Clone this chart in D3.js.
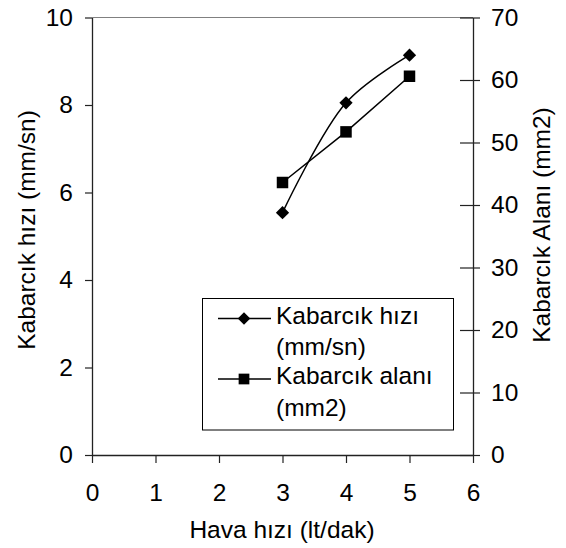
<!DOCTYPE html>
<html lang="en">
<head>
<meta charset="UTF-8">
<title>Kabarcik chart</title>
<script src="https://cdnjs.cloudflare.com/ajax/libs/d3/7.8.5/d3.min.js"></script>
<style>
    body { margin: 0; background: white; }
    text { font-family: "Liberation Sans", Arial, sans-serif; font-size: 24.5px; fill: black; }
</style>
</head>
<body>
<div id="chart"></div>
<script>

    var width = 566,
        height = 548;

    // data
    var havaHizi = [3, 4, 5];
    var kabarcikHizi = [5.54, 8.05, 9.14];     // left axis (mm/sn)
    var kabarcikAlani = [43.6, 51.7, 60.6];    // right axis (mm2)
    var xTicks = [0, 1, 2, 3, 4, 5, 6];
    var yLeftTicks = [0, 2, 4, 6, 8, 10];
    var yRightTicks = [0, 10, 20, 30, 40, 50, 60, 70];
    var legendLabels = [["Kabarcık hızı", "(mm/sn)"], ["Kabarcık alanı", "(mm2)"]];

    var plotLeft = 92, plotRight = 473, plotTop = 17.5, plotBottom = 455;

    var svg = d3.select("#chart")
        .append("svg")
        .attr("width", width)
        .attr("height", height);

    var x = d3.scaleLinear().domain([0, 6]).range([plotLeft, plotRight]);
    var yL = d3.scaleLinear().domain([0, 10]).range([plotBottom, plotTop]);
    var yR = d3.scaleLinear().domain([0, 70]).range([plotBottom, plotTop]);

    // top border (gray)
    svg.append("line")
        .attr("x1", plotLeft).attr("x2", plotRight)
        .attr("y1", plotTop).attr("y2", plotTop)
        .attr("stroke", "#808080").attr("stroke-width", 1);

    // x axis
    var xAxis = svg.append("g")
        .attr("transform", "translate(0," + plotBottom + ")")
        .call(d3.axisBottom(x).tickValues(xTicks).tickFormat(d3.format("d")).tickSize(8).tickSizeOuter(0));

    // left axis
    var yAxisL = svg.append("g")
        .attr("transform", "translate(" + plotLeft + ",0)")
        .call(d3.axisLeft(yL).tickValues(yLeftTicks).tickFormat(d3.format("d")).tickSize(7).tickPadding(12).tickSizeOuter(0));

    // right axis, ticks cross the line
    var yAxisR = svg.append("g")
        .attr("transform", "translate(" + plotRight + ",0)")
        .call(d3.axisRight(yR).tickValues(yRightTicks).tickFormat(d3.format("d")).tickSize(7).tickPadding(11).tickSizeOuter(0));
    yAxisR.selectAll(".tick line").attr("x1", -13).attr("x2", 7);

    [xAxis, yAxisL, yAxisR].forEach(function(a) {
        a.select(".domain").attr("stroke", "#222").attr("stroke-width", 1.3);
        a.selectAll(".tick line").attr("stroke", "#222").attr("stroke-width", 1.2);
        a.selectAll(".tick text").style("font-size", "24.5px").attr("fill", "black");
    });
    xAxis.selectAll(".tick text").attr("dy", "0").attr("y", 46);

    // axis titles
    svg.append("text")
        .attr("x", 282).attr("y", 538)
        .attr("text-anchor", "middle")
        .text("Hava hızı (lt/dak)");

    svg.append("text")
        .attr("transform", "translate(35,230) rotate(-90)")
        .attr("text-anchor", "middle")
        .text("Kabarcık hızı (mm/sn)");

    svg.append("text")
        .attr("transform", "translate(550,225) rotate(-90)")
        .attr("text-anchor", "middle")
        .text("Kabarcık Alanı (mm2)");

    // lines
    var line1 = d3.line()
        .x(function(d, i) { return x(havaHizi[i]); })
        .y(function(d) { return yL(d); })
        .curve(d3.curveCatmullRom.alpha(0.5));

    var line2 = d3.line()
        .x(function(d, i) { return x(havaHizi[i]); })
        .y(function(d) { return yR(d); });

    svg.append("path")
        .attr("d", line1(kabarcikHizi))
        .attr("fill", "none").attr("stroke", "black").attr("stroke-width", 1.5);

    svg.append("path")
        .attr("d", line2(kabarcikAlani))
        .attr("fill", "none").attr("stroke", "black").attr("stroke-width", 1.5);

    var diamond = d3.symbol().type(d3.symbolDiamond2).size(112);
    var square = d3.symbol().type(d3.symbolSquare).size(132);

    svg.selectAll(".dia")
        .data(kabarcikHizi)
        .enter()
        .append("path")
        .attr("class", "dia")
        .attr("d", diamond)
        .attr("transform", function(d, i) { return "translate(" + x(havaHizi[i]) + "," + yL(d) + ")"; })
        .attr("fill", "black");

    svg.selectAll(".sq")
        .data(kabarcikAlani)
        .enter()
        .append("path")
        .attr("class", "sq")
        .attr("d", square)
        .attr("transform", function(d, i) { return "translate(" + x(havaHizi[i]) + "," + yR(d) + ")"; })
        .attr("fill", "black");

    // legend
    var legend = svg.append("g");
    legend.append("rect")
        .attr("x", 202.5).attr("y", 298.5)
        .attr("width", 251).attr("height", 131.5)
        .attr("fill", "white").attr("stroke", "black").attr("stroke-width", 1);

    var symbols = [d3.symbol().type(d3.symbolDiamond2).size(100), d3.symbol().type(d3.symbolSquare).size(115)];
    var lineY = [318.5, 379];

    legendLabels.forEach(function(lbl, i) {
        legend.append("line")
            .attr("x1", 218).attr("x2", 271)
            .attr("y1", lineY[i]).attr("y2", lineY[i])
            .attr("stroke", "black").attr("stroke-width", 1.5);
        legend.append("path")
            .attr("d", symbols[i])
            .attr("transform", "translate(244," + lineY[i] + ")")
            .attr("fill", "black");
        legend.append("text")
            .attr("x", 276).attr("y", lineY[i] + 5)
            .text(lbl[0]);
        legend.append("text")
            .attr("x", 276).attr("y", lineY[i] + 36.5)
            .text(lbl[1]);
    });

</script>
</body>
</html>
